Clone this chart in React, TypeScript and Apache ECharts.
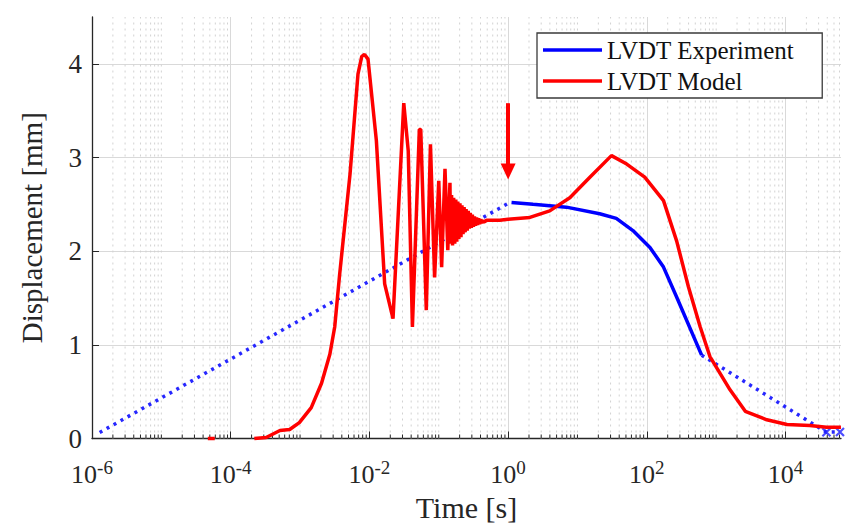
import React, { useEffect, useRef } from "react";
import * as echarts from "echarts";

const FONT = "Liberation Serif, Times New Roman, serif";

// Axis ranges
const X_MIN = 1e-6;
const X_MAX = 63096;
const Y_MIN = 0;
const Y_MAX = 4.5;

// LVDT Model (red) – short piece on the axis near 5e-5 s
const modelStartTime = [4.68e-5, 5.89e-5];
const modelStartDisp = [0, 0];

// LVDT Model (red) – main curve
const modelTime = [
  2.19e-4, 3.24e-4, 5.13e-4, 7.08e-4, 9.77e-4, 1.45e-3, 2.04e-3, 2.69e-3, 3.16e-3, 3.72e-3,
  5.25e-3, 6.84e-3, 7.76e-3, 8.51e-3, 9.55e-3, 1.26e-2, 1.66e-2, 2.19e-2, 3.13e-2, 3.63e-2,
  4.17e-2, 5.25e-2, 5.5e-2, 6.61e-2, 7.59e-2, 8.71e-2, 0.1, 0.11, 0.123, 0.135, 0.145,
  0.148, 0.153, 0.158, 0.164, 0.17, 0.176, 0.182, 0.188, 0.195, 0.202,
  0.209, 0.216, 0.224, 0.232, 0.24, 0.248, 0.257, 0.266, 0.275, 0.285,
  0.295, 0.305, 0.316, 0.327, 0.339, 0.351, 0.363, 0.376, 0.389, 0.403,
  0.417, 0.432, 0.447, 0.468,
  0.49, 0.759, 1.0, 2.06, 3.98, 7.76, 15.1, 30.9, 51.3, 93.3,
  174, 269, 398, 589, 813, 1585, 2630, 5370, 10500, 22400, 38900, 63000,
];
const modelDisp = [
  0, 0.01, 0.085, 0.096, 0.17, 0.33, 0.59, 0.9, 1.19, 1.75,
  2.82, 3.89, 4.08, 4.1, 4.05, 3.18, 1.65, 1.28, 3.58, 3.07,
  1.19, 3.3, 3.3, 1.37, 3.14, 1.72, 2.75, 1.83, 2.88, 2.01, 2.73,
  2.08, 2.6, 2.06, 2.57, 2.08, 2.55, 2.1, 2.53, 2.13, 2.51,
  2.15, 2.49, 2.18, 2.47, 2.2, 2.45, 2.22, 2.43, 2.24, 2.41,
  2.25, 2.39, 2.26, 2.37, 2.27, 2.36, 2.28, 2.35, 2.29, 2.34,
  2.3, 2.33, 2.31, 2.32,
  2.33, 2.33, 2.34, 2.36, 2.43, 2.57, 2.79, 3.02, 2.93, 2.79,
  2.54, 2.11, 1.62, 1.19, 0.875, 0.52, 0.29, 0.2, 0.15, 0.14, 0.12, 0.12,
];

// LVDT Experiment (blue, measured part)
const expTime = [1.12, 2.29, 6.92, 20.9, 36.3, 63.1, 111, 174, 269, 617];
const expDisp = [2.52, 2.5, 2.47, 2.4, 2.35, 2.22, 2.04, 1.83, 1.51, 0.89];

// LVDT Experiment (blue dotted extrapolations)
const expPreTime = [1.29e-6, 1.06];
const expPreDisp = [0.064, 2.52];
const expPostTime = [617, 38900, 61000];
const expPostDisp = [0.89, 0.067, 0.07];

// 'x' end markers
const markTime = [38900, 61000];
const markDisp = [0.067, 0.07];

// Arrow annotation at t = 1 s
const arrowTime = 1;
const arrowFrom = 3.58;
const arrowTo = 2.85;

// Minor (log) grid positions: k*10^n, plus the unlabelled odd decades
const minorTicks: number[] = [];
for (let e = -6; e <= 4; e++) {
  for (let k = 1; k <= 9; k++) {
    if (k === 1 && e % 2 === 0) continue;
    const v = k * Math.pow(10, e);
    if (v < X_MAX) minorTicks.push(v);
  }
}

const zip = (a: number[], b: number[]) => a.map((v, i) => [v, b[i]]);

export default function App() {
  const ref = useRef<HTMLDivElement>(null);
  useEffect(() => {
    if (!ref.current) return;
    const chart = echarts.init(ref.current, null, { renderer: "svg" });
    const axisColor = "#262626";
    const option: any = {
      animation: false,
      backgroundColor: "#ffffff",
      textStyle: { fontFamily: FONT },
      grid: { left: 92, right: 13, top: 17, bottom: 92.5, containLabel: false },
      legend: {
        data: [
          { name: "LVDT Experiment", icon: "rect" },
          { name: "LVDT Model", icon: "rect" },
        ],
        orient: "vertical",
        left: 537,
        top: 33,
        itemWidth: 59,
        itemHeight: 3.5,
        itemGap: 3,
        padding: [3, 28, 3, 6],
        backgroundColor: "#ffffff",
        borderColor: "#3a3a3a",
        borderWidth: 1.3,
        textStyle: { fontFamily: FONT, fontSize: 25, color: "#111111", lineHeight: 28 },
        selectedMode: false,
      },
      xAxis: {
        type: "log",
        logBase: 100,
        min: X_MIN,
        max: X_MAX,
        name: "Time [s]",
        nameLocation: "middle",
        nameGap: 49,
        nameTextStyle: { fontFamily: FONT, fontSize: 30, color: axisColor },
        axisLine: { show: true, onZero: false, lineStyle: { color: axisColor, width: 1.3 } },
        axisTick: { show: true, inside: true, length: 7, lineStyle: { color: axisColor, width: 1 } },
        axisLabel: {
          margin: 19,
          showMaxLabel: false,
          color: axisColor,
          fontFamily: FONT,
          formatter: (v: number) => `{b|10}{s|${Math.round(Math.log10(v))}}`,
          rich: {
            b: { fontFamily: FONT, fontSize: 26, lineHeight: 30, verticalAlign: "bottom", color: axisColor },
            s: { fontFamily: FONT, fontSize: 19, lineHeight: 12, verticalAlign: "top", color: axisColor },
          },
        },
        splitLine: { show: true, showMaxLine: false, showMinLine: false, lineStyle: { color: "#d9d9d9", width: 1 } },
      },
      yAxis: {
        type: "value",
        min: Y_MIN,
        max: Y_MAX,
        interval: 1,
        name: "Displacement [mm]",
        nameLocation: "middle",
        nameGap: 46,
        nameRotate: 90,
        nameTextStyle: { fontFamily: FONT, fontSize: 29, color: axisColor },
        axisLine: { show: true, lineStyle: { color: axisColor, width: 1.3 } },
        axisTick: { show: true, inside: true, length: 7, lineStyle: { color: axisColor, width: 1 } },
        axisLabel: { fontFamily: FONT, fontSize: 27, color: axisColor, margin: 10, showMaxLabel: false },
        splitLine: { show: true, showMaxLine: false, showMinLine: false, lineStyle: { color: "#d9d9d9", width: 1 } },
      },
      series: [
        {
          name: "minor-grid",
          type: "custom",
          silent: true,
          z: 1,
          clip: false,
          data: minorTicks.map((v) => [v, 0]),
          encode: { x: 0, y: 1 },
          renderItem: (params: any, api: any) => {
            const t = api.value(0);
            const pb = api.coord([t, Y_MIN]);
            const pt = api.coord([t, Y_MAX]);
            return {
              type: "group",
              children: [
                {
                  type: "line",
                  shape: { x1: pb[0], y1: pb[1], x2: pt[0], y2: pt[1] },
                  style: { stroke: "#d2d2d2", lineWidth: 1, lineDash: [2, 4] },
                },
                {
                  type: "line",
                  shape: { x1: pb[0], y1: pb[1], x2: pb[0], y2: pb[1] - 4 },
                  style: { stroke: axisColor, lineWidth: 1 },
                },
              ],
            };
          },
        },
        {
          name: "expPre",
          type: "line",
          data: zip(expPreTime, expPreDisp),
          showSymbol: false,
          symbol: "none",
          z: 3,
          clip: false,
          lineStyle: { color: "#2626ff", width: 3.5, type: [3, 5] },
        },
        {
          name: "expPost",
          type: "line",
          data: zip(expPostTime, expPostDisp),
          showSymbol: false,
          symbol: "none",
          z: 3,
          clip: false,
          lineStyle: { color: "#2626ff", width: 3.5, type: [3, 5] },
        },
        {
          name: "marks",
          type: "scatter",
          data: zip(markTime, markDisp),
          symbol: "path://M0,0L10,10M10,0L0,10",
          symbolSize: 8,
          z: 4,
          clip: false,
          itemStyle: { color: "none", borderColor: "#2020ff", borderWidth: 2.2 },
        },
        {
          name: "LVDT Experiment",
          type: "line",
          data: zip(expTime, expDisp),
          showSymbol: false,
          symbol: "none",
          z: 4,
          clip: false,
          color: "#0000ff",
          itemStyle: { color: "#0000ff" },
          lineStyle: { color: "#0000ff", width: 3.5 },
        },
        {
          name: "modelStart",
          type: "line",
          data: zip(modelStartTime, modelStartDisp),
          showSymbol: false,
          symbol: "none",
          z: 5,
          clip: false,
          lineStyle: { color: "#ff0000", width: 3.5 },
        },
        {
          name: "LVDT Model",
          type: "line",
          data: zip(modelTime, modelDisp),
          showSymbol: false,
          symbol: "none",
          z: 5,
          clip: false,
          color: "#ff0000",
          itemStyle: { color: "#ff0000" },
          lineStyle: { color: "#ff0000", width: 3.5 },
          markLine: {
            silent: true,
            symbol: ["none", "triangle"],
            symbolSize: [15, 16],
            label: { show: false },
            lineStyle: { color: "#ff0000", width: 4, type: "solid" },
            data: [[{ coord: [arrowTime, arrowFrom] }, { coord: [arrowTime, arrowTo] }]],
          },
        },
      ],
    };
    chart.setOption(option);
    return () => chart.dispose();
  }, []);
  return (
    <div
      ref={ref}
      style={{ position: "absolute", left: 0, top: 0, width: 854, height: 531, background: "#fff" }}
    />
  );
}
